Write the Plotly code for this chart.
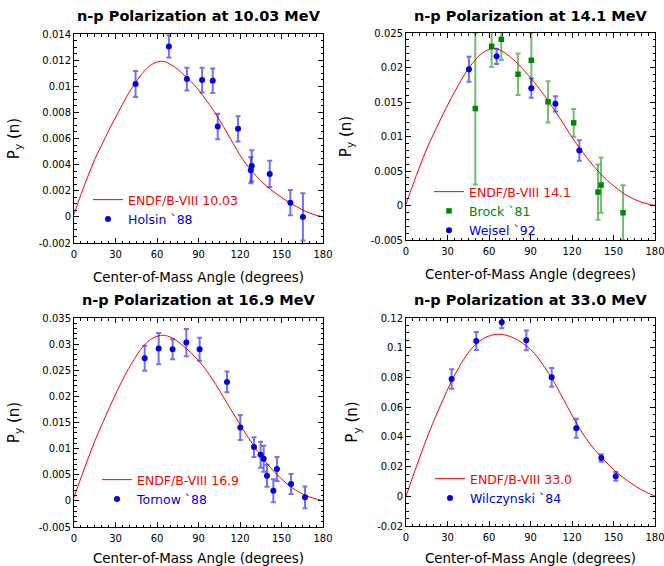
import plotly.graph_objects as go

# ---------------- data ----------------
# Panel 1: 10.03 MeV
endf1_ang = [0, 5, 10, 15, 20, 26, 32, 38, 44, 48, 54, 60, 65, 70, 75, 81, 87, 93, 103, 113, 122, 132, 141, 151, 161, 170, 180]
endf1_py = [0.0002, 0.0017, 0.0031, 0.0044, 0.0055, 0.0068, 0.0080, 0.0092, 0.0102, 0.0108, 0.0115, 0.01185, 0.0119, 0.01165,
            0.0113, 0.0107, 0.0101, 0.0093, 0.0078, 0.0060, 0.0044, 0.0031, 0.0022, 0.00142, 0.00078, 0.0003, 0.0]
holsin_ang = [44.5, 68.6, 81.6, 92.6, 100.3, 103.9, 118.6, 127.8, 128.5, 141.5, 156.4, 165.5]
holsin_py = [0.01017, 0.01305, 0.01055, 0.01047, 0.01042, 0.00692, 0.00674, 0.00357, 0.0039, 0.00329, 0.00109, 0.0]
holsin_err = [0.0010, 0.00085, 0.00087, 0.00095, 0.00093, 0.00098, 0.00097, 0.0010, 0.0012, 0.0010, 0.00097, 0.0018]

# Panel 2: 14.1 MeV
endf2_ang = [0, 5, 10, 15, 20, 26, 32, 38, 44, 48, 54, 60, 65, 70, 75, 81, 87, 93, 103, 113, 122, 132, 141, 151, 161, 170, 180]
endf2_py = [0.0002, 0.0030, 0.0057, 0.0082, 0.0104, 0.0129, 0.0153, 0.0175, 0.0195, 0.0206, 0.0219, 0.0226, 0.0227, 0.0223,
            0.0216, 0.0205, 0.0192, 0.0178, 0.0151, 0.0121, 0.0093, 0.0066, 0.0045, 0.0027, 0.0013, 0.0005, 0.0]
brock_ang = [50.1, 61.9, 68.9, 81.0, 90.6, 102.7, 121.2, 138.8, 141.0, 156.9]
brock_py = [0.01405, 0.02307, 0.02408, 0.01902, 0.02105, 0.01502, 0.01198, 0.00195, 0.00296, -0.00105]
brock_err = [0.011, 0.003, 0.003, 0.003, 0.004, 0.003, 0.002, 0.004, 0.004, 0.004]
weisel_ang = [45.5, 65.5, 90.6, 108.0, 125.3]
weisel_py = [0.01974, 0.02162, 0.0170, 0.01473, 0.00797]
weisel_err = [0.0018, 0.0011, 0.0014, 0.0011, 0.0015]

# Panel 3: 16.9 MeV
endf3_ang = [0, 5, 10, 15, 20, 26, 32, 38, 44, 48, 54, 60, 65, 70, 75, 81, 87, 93, 100, 110, 120, 130, 140, 150, 160, 170, 180]
endf3_py = [0.0007, 0.0044, 0.0080, 0.0114, 0.0145, 0.0181, 0.0215, 0.0246, 0.0273, 0.0289, 0.0306, 0.0315, 0.0317, 0.0313,
            0.0305, 0.0292, 0.0277, 0.0259, 0.0233, 0.0190, 0.0146, 0.0105, 0.0070, 0.0042, 0.0021, 0.0008, 0.0]
tornow_ang = [51.1, 61.2, 71.3, 81.2, 90.8, 110.6, 120.2, 130.1, 134.9, 137.1, 139.5, 144.1, 146.7, 156.9, 167.0]
tornow_py = [0.02729, 0.02914, 0.02901, 0.03029, 0.02901, 0.02277, 0.01404, 0.01029, 0.00882, 0.00806, 0.00481, 0.00194,
             0.00608, 0.00322, 0.00067]
tornow_err = [0.0024, 0.0030, 0.0019, 0.0026, 0.0022, 0.0020, 0.0024, 0.0019, 0.0025, 0.0025, 0.0021, 0.0022, 0.0023, 0.0019, 0.0021]

# Panel 4: 33.0 MeV
endf4_ang = [0, 5, 10, 15, 20, 26, 33, 40, 46, 51, 56, 61, 66, 71, 76, 81, 87, 93, 99, 105, 114, 123, 132, 141, 151, 160, 170, 180]
endf4_py = [0.0, 0.0135, 0.0265, 0.0390, 0.0505, 0.0635, 0.0775, 0.0895, 0.0978, 0.1028, 0.1062, 0.1082, 0.1090, 0.1087,
            0.1073, 0.1050, 0.1012, 0.0960, 0.0885, 0.0800, 0.0650, 0.0495, 0.0365, 0.0265, 0.0172, 0.0105, 0.0045, 0.0]
wilcz_ang = [33.0, 50.8, 69.2, 87.0, 105.3, 123.1, 141.2, 151.6]
wilcz_py = [0.07894, 0.10452, 0.11708, 0.10497, 0.08006, 0.04573, 0.02577, 0.01343]
wilcz_err = [0.0065, 0.0060, 0.0040, 0.0067, 0.0063, 0.0064, 0.0025, 0.0030]

titles = ["n-p Polarization at 10.03 MeV", "n-p Polarization at 14.1 MeV",
          "n-p Polarization at 16.9 MeV", "n-p Polarization at 33.0 MeV"]
endf_names = ["ENDF/B-VIII 10.03", "ENDF/B-VIII 14.1", "ENDF/B-VIII 16.9", "ENDF/B-VIII 33.0"]

x_ticks = [0, 30, 60, 90, 120, 150, 180]
y1_ticks = [-0.002, 0, 0.002, 0.004, 0.006, 0.008, 0.01, 0.012, 0.014]
y1_labels = ["-0.002", "0", "0.002", "0.004", "0.006", "0.008", "0.01", "0.012", "0.014"]
y2_ticks = [-0.005, 0, 0.005, 0.01, 0.015, 0.02, 0.025]
y2_labels = ["-0.005", "0", "0.005", "0.01", "0.015", "0.02", "0.025"]
y3_ticks = [-0.005, 0, 0.005, 0.01, 0.015, 0.02, 0.025, 0.03, 0.035]
y3_labels = ["-0.005", "0", "0.005", "0.01", "0.015", "0.02", "0.025", "0.03", "0.035"]
y4_ticks = [-0.02, 0, 0.02, 0.04, 0.06, 0.08, 0.1, 0.12]
y4_labels = ["-0.02", "0", "0.02", "0.04", "0.06", "0.08", "0.1", "0.12"]

# ---------------- styles ----------------
W, H = 664, 566
RED = "rgb(255,0,0)"
BLUE = "rgb(0,0,230)"
BLUE_ERR = "rgba(0,0,230,0.55)"
GREEN = "rgb(0,135,0)"
GREEN_ERR = "rgba(0,135,0,0.55)"
FONT = "DejaVu Sans"

def col(s, c):
    return "<span style='color:%s'>%s</span>" % (c, s)

fig = go.Figure()

def add_endf(ang, py, name, ax, leg):
    fig.add_trace(go.Scatter(x=ang, y=py, mode="lines", line=dict(color=RED, width=1, shape="spline", smoothing=1.0),
                             name=col(name, RED), xaxis="x" + ax, yaxis="y" + ax, legend=leg, cliponaxis=True))

def add_data(ang, py, err, name, ax, leg, color, ecolor, symbol, size):
    fig.add_trace(go.Scatter(x=ang, y=py, mode="markers",
                             marker=dict(color=color, size=size, symbol=symbol),
                             error_y=dict(type="data", array=err, visible=True, color=ecolor, thickness=2, width=2.5),
                             name=col(name, color), xaxis="x" + ax, yaxis="y" + ax, legend=leg, cliponaxis=True))

add_endf(endf1_ang, endf1_py, endf_names[0], "", "legend")
add_data(holsin_ang, holsin_py, holsin_err, "Holsin `88", "", "legend", BLUE, BLUE_ERR, "circle", 6)

add_endf(endf2_ang, endf2_py, endf_names[1], "2", "legend2")
add_data(brock_ang, brock_py, brock_err, "Brock `81", "2", "legend2", GREEN, GREEN_ERR, "square", 5.5)
add_data(weisel_ang, weisel_py, weisel_err, "Weisel `92", "2", "legend2", BLUE, BLUE_ERR, "circle", 6)

add_endf(endf3_ang, endf3_py, endf_names[2], "3", "legend3")
add_data(tornow_ang, tornow_py, tornow_err, "Tornow `88", "3", "legend3", BLUE, BLUE_ERR, "circle", 6)

add_endf(endf4_ang, endf4_py, endf_names[3], "4", "legend4")
add_data(wilcz_ang, wilcz_py, wilcz_err, "Wilczynski `84", "4", "legend4", BLUE, BLUE_ERR, "circle", 6)

# plot areas in pixels: (left, right, top, bottom)
boxes = [(74, 323, 34, 243), (406, 655, 33, 240), (74, 323, 318, 527), (406, 655, 318, 526)]
yspecs = [([-0.002, 0.014], y1_ticks, y1_labels, 0.0005),
          ([-0.005, 0.025], y2_ticks, y2_labels, 0.001),
          ([-0.005, 0.035], y3_ticks, y3_labels, 0.001),
          ([-0.02, 0.12], y4_ticks, y4_labels, 0.005)]
legend_pos = [(88, 185), (429, 177), (97, 465), (430, 464)]

layout = dict(width=W, height=H, margin=dict(l=0, r=0, t=0, b=0, autoexpand=False), autosize=False,
              paper_bgcolor="white", plot_bgcolor="white",
              font=dict(family=FONT, color="black", size=10))

annotations = []
for i, ((l, r, t, b), (yr, yt, yl, ymin)) in enumerate(zip(boxes, yspecs)):
    sfx = "" if i == 0 else str(i + 1)
    xa = dict(domain=[l / W, r / W], range=[0, 180], tickvals=x_ticks, ticktext=[str(v) for v in x_ticks],
              ticks="inside", ticklen=5, tickcolor="black", showline=True, linecolor="black", linewidth=1,
              mirror="allticks", showgrid=False, zeroline=False, tickfont=dict(size=10, family=FONT),
              ticklabelstandoff=2, ticklabeloverflow="allow",
              minor=dict(ticks="inside", ticklen=2.5, tick0=0, dtick=5, tickcolor="black", showgrid=False),
              title=dict(text="Center-of-Mass Angle (degrees)", font=dict(size=13.4, family=FONT), standoff=13),
              anchor="y" + sfx, automargin=False)
    ya = dict(domain=[(H - b) / H, (H - t) / H], range=yr, tickvals=yt, ticktext=yl,
              ticks="inside", ticklen=5, tickcolor="black", showline=True, linecolor="black", linewidth=1,
              mirror="allticks", showgrid=False, zeroline=False, tickfont=dict(size=10, family=FONT),
              ticklabeloverflow="allow",
              minor=dict(ticks="inside", ticklen=2.5, tick0=0, dtick=ymin, tickcolor="black", showgrid=False),
              title=dict(text="P<sub>y</sub> (n)", font=dict(size=15, family=FONT), standoff=15),
              anchor="x" + sfx, automargin=False)
    layout["xaxis" + sfx] = xa
    layout["yaxis" + sfx] = ya
    lx, ly = legend_pos[i]
    layout["legend" + sfx] = dict(x=lx / W, y=(H - ly) / H, xanchor="left", yanchor="top",
                                  bgcolor="rgba(0,0,0,0)", borderwidth=0, itemwidth=30,
                                  font=dict(family=FONT, size=12.5), tracegroupgap=0)
    title_y = 16 if i < 2 else 300
    annotations.append(dict(text="<b>%s</b>" % titles[i], x=(l + r) / 2 / W, y=(H - title_y) / H,
                            xref="paper", yref="paper", xanchor="center", yanchor="middle", showarrow=False,
                            font=dict(family=FONT, size=14.5, color="black")))

layout["annotations"] = annotations
fig.update_layout(**layout)
fig.write_html("out.html", config={"displayModeBar": False},
               post_script="document.body.style.margin='0';document.body.style.overflow='hidden';")
